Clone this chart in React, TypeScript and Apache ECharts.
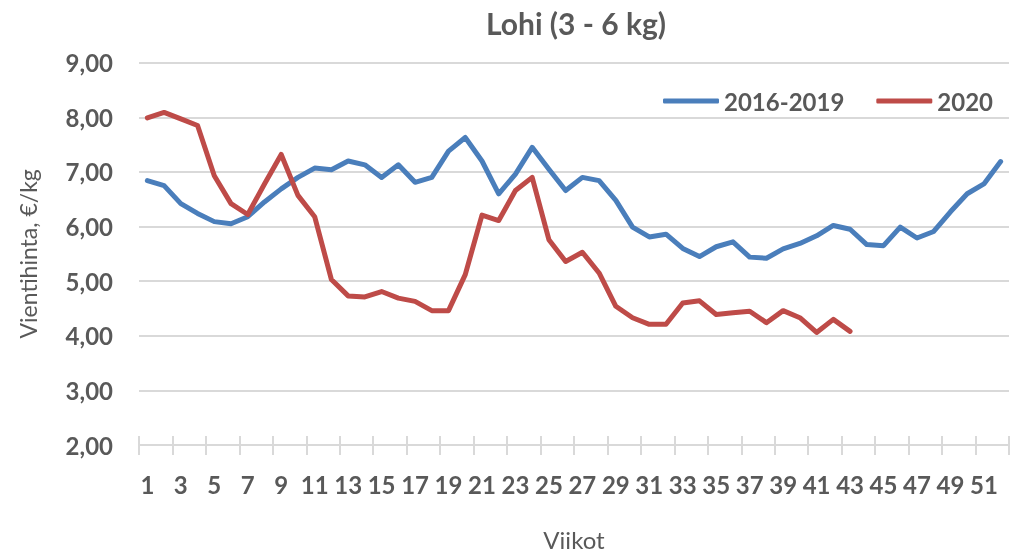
import React, { useEffect, useRef } from "react";
import * as echarts from "echarts";

const weeks: string[] = Array.from({ length: 52 }, (_, i) => String(i + 1));

const avg2016to2019: number[] = [
  6.84, 6.75, 6.42, 6.24, 6.09, 6.05, 6.18, 6.45, 6.69, 6.9, 7.07, 7.04, 7.2,
  7.13, 6.9, 7.13, 6.81, 6.9, 7.38, 7.63, 7.2, 6.6, 6.96, 7.45, 7.05, 6.66,
  6.9, 6.84, 6.48, 5.99, 5.81, 5.86, 5.6, 5.45, 5.63, 5.72, 5.44, 5.42, 5.59,
  5.69, 5.83, 6.02, 5.95, 5.67, 5.65, 5.99, 5.79, 5.91, 6.27, 6.6, 6.78, 7.19,
];

const year2020: number[] = [
  7.99, 8.09, 7.97, 7.85, 6.93, 6.42, 6.22, 6.78, 7.32, 6.57, 6.18, 5.03, 4.73,
  4.71, 4.81, 4.69, 4.63, 4.46, 4.46, 5.12, 6.21, 6.11, 6.66, 6.9, 5.76, 5.36,
  5.53, 5.15, 4.54, 4.33, 4.21, 4.21, 4.6, 4.64, 4.39, 4.42, 4.45, 4.24, 4.46,
  4.33, 4.06, 4.3, 4.08,
];

const seriesNames = ["2016-2019", "2020"];
const titleText = "Lohi (3 - 6 kg)";
const yAxisName = "Vientihinta, €/kg";
const xAxisName = "Viikot";

const TEXT = "#595959";
const GRID = "#d9d9d9";
const BLUE = "#4a7ebb";
const RED = "#be4b48";
const FONT = "Lato, 'Open Sans', sans-serif";

export default function App() {
  const ref = useRef<HTMLDivElement>(null);
  useEffect(() => {
    if (!ref.current) return;
    const chart = echarts.init(ref.current, undefined, { renderer: "svg" });
    chart.setOption({
      animation: false,
      title: {
        text: titleText,
        left: 481,
        top: 3,
        textStyle: { fontFamily: FONT, fontWeight: "bold", fontSize: 30, color: TEXT },
      },
      legend: {
        left: 658,
        top: 84,
        icon: "roundRect",
        itemWidth: 56,
        itemHeight: 5,
        itemGap: 32,
        data: seriesNames,
        textStyle: { fontFamily: FONT, fontWeight: "bold", fontSize: 24, color: TEXT },
      },
      grid: { left: 139, right: 1, top: 62.7, bottom: 107.7, containLabel: false },
      xAxis: [
        {
          type: "category",
          data: weeks,
          boundaryGap: true,
          name: xAxisName,
          nameLocation: "middle",
          nameGap: 82,
          nameTextStyle: { fontFamily: FONT, fontSize: 24, color: TEXT },
          axisLine: { show: true, lineStyle: { color: GRID, width: 2 } },
          axisTick: { show: true, length: 10, lineStyle: { color: GRID, width: 2 } },
          axisLabel: {
            interval: 1,
            margin: 27,
            fontFamily: FONT,
            fontWeight: "bold",
            fontSize: 24,
            color: TEXT,
          },
          splitLine: { show: false },
        },
        {
          type: "category",
          data: weeks,
          boundaryGap: true,
          position: "bottom",
          axisLine: { show: false },
          axisTick: { show: true, inside: true, length: 9, lineStyle: { color: GRID, width: 2 } },
          axisLabel: { show: false },
          splitLine: { show: false },
        },
      ],
      yAxis: {
        type: "value",
        min: 2,
        max: 9,
        interval: 1,
        name: yAxisName,
        nameLocation: "middle",
        nameGap: 100,
        nameTextStyle: { fontFamily: FONT, fontSize: 23, color: TEXT },
        axisLine: { show: false },
        axisTick: { show: false },
        axisLabel: {
          margin: 26,
          fontFamily: FONT,
          fontWeight: "bold",
          fontSize: 24,
          color: TEXT,
          formatter: (v: number) => v.toFixed(2).replace(".", ","),
        },
        splitLine: { show: true, lineStyle: { color: GRID, width: 2 } },
      },
      series: [
        {
          name: seriesNames[0],
          type: "line",
          data: avg2016to2019,
          xAxisIndex: 0,
          symbol: "none",
          lineStyle: { color: BLUE, width: 5, cap: "round", join: "round" },
          itemStyle: { color: BLUE },
        },
        {
          name: seriesNames[1],
          type: "line",
          data: year2020,
          xAxisIndex: 0,
          symbol: "none",
          lineStyle: { color: RED, width: 5, cap: "round", join: "round" },
          itemStyle: { color: RED },
        },
      ],
    });
    return () => chart.dispose();
  }, []);
  return <div ref={ref} style={{ width: 1010, height: 556, position: "fixed", left: 0, top: 0 }} />;
}
